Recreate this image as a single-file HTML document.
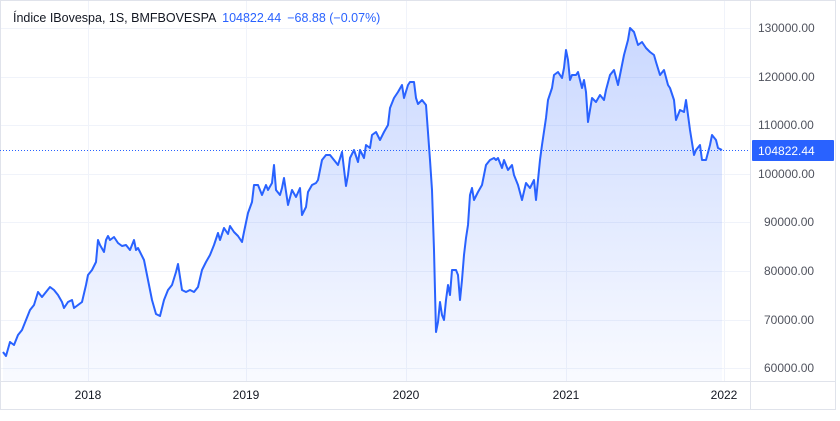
<!DOCTYPE html>
<html><head><meta charset="utf-8"><style>
body{margin:0;background:#fff;}
svg text{font-family:"Liberation Sans",sans-serif;}
</style></head><body>
<svg width="840" height="416" viewBox="0 0 840 416" xmlns="http://www.w3.org/2000/svg">
<defs><linearGradient id="g" x1="0" y1="0" x2="0" y2="1">
<stop offset="0" stop-color="#2962ff" stop-opacity="0.25"/>
<stop offset="1" stop-color="#2962ff" stop-opacity="0.03"/></linearGradient></defs>
<rect width="840" height="416" fill="#fff"/>
<g stroke="#f0f3fa" stroke-width="1">
<line x1="0" y1="28.5" x2="750" y2="28.5"/><line x1="0" y1="77.5" x2="750" y2="77.5"/>
<line x1="0" y1="125.5" x2="750" y2="125.5"/><line x1="0" y1="174.5" x2="750" y2="174.5"/>
<line x1="0" y1="222.5" x2="750" y2="222.5"/><line x1="0" y1="271.5" x2="750" y2="271.5"/>
<line x1="0" y1="320.5" x2="750" y2="320.5"/><line x1="0" y1="368.5" x2="750" y2="368.5"/>
<line x1="88.5" y1="0" x2="88.5" y2="381"/><line x1="246.5" y1="0" x2="246.5" y2="381"/>
<line x1="406.5" y1="0" x2="406.5" y2="381"/><line x1="566.5" y1="0" x2="566.5" y2="381"/>
<line x1="724.5" y1="0" x2="724.5" y2="381"/>
</g>
<line x1="750.5" y1="0" x2="750.5" y2="410" stroke="#e0e3eb"/>
<line x1="0" y1="381.5" x2="836" y2="381.5" stroke="#e0e3eb"/>
<rect x="0.5" y="0.5" width="835" height="409" fill="none" stroke="#e0e3eb"/>
<polygon fill="url(#g)" points="3,381 3,352 6,356 10,342 14,345 18,335 22,330 26,320 30,310 34,305 38,292 42,297 46,292 50,287 54,290 58,295 62,302 64,308 68,302 72,300 74,308 78,305 82,302 86,285 88,275 92,270 96,262 98,240 100,245 104,252 106,240 108,236 110,240 114,237 118,243 122,246 126,245 130,250 134,240 136,250 138,248 140,252 144,260 148,280 152,300 156,314 160,316 164,300 168,290 172,285 176,272 178,264 182,290 186,292 190,290 194,292 198,287 202,270 206,262 210,255 214,245 218,233 220,240 224,228 228,234 230,226 234,232 238,236 242,242 244,232 248,213 252,202 254,185 258,185 262,195 266,185 268,190 272,183 274,165 276,190 280,195 282,188 284,178 288,205 292,190 296,197 300,188 302,215 306,207 308,192 312,185 316,183 318,180 322,160 326,155 330,155 334,160 338,165 342,152 346,186 348,175 350,158 354,150 358,162 360,150 364,158 366,145 370,148 372,135 376,132 380,140 384,132 388,125 390,108 394,98 398,92 402,85 404,98 408,85 410,82 414,82 416,98 418,104 422,100 426,105 430,160 432,190 434,250 436,332 438,322 440,302 442,315 444,320 446,300 448,285 450,295 452,270 456,270 458,275 460,300 462,280 464,255 466,238 468,225 470,195 472,188 474,200 478,192 482,185 486,165 490,160 494,158 496,160 498,158 502,168 504,160 508,170 512,165 514,175 518,185 522,200 526,183 530,188 534,180 536,200 540,160 542,145 546,118 548,100 552,88 554,75 558,72 562,78 564,68 566,50 568,60 570,80 572,75 576,75 578,72 582,88 584,80 586,92 588,122 592,98 596,102 600,95 604,100 606,90 610,75 614,70 618,85 620,75 624,55 628,40 630,28 634,32 638,45 642,42 646,48 650,52 654,55 656,62 660,75 664,70 668,85 670,88 674,100 676,120 680,110 684,112 686,100 690,130 694,155 696,150 700,145 702,160 706,160 710,145 712,135 716,140 718,148 722,150 722,381"/>
<polyline fill="none" stroke="#2962ff" stroke-width="2" stroke-linejoin="round" points="3,352 6,356 10,342 14,345 18,335 22,330 26,320 30,310 34,305 38,292 42,297 46,292 50,287 54,290 58,295 62,302 64,308 68,302 72,300 74,308 78,305 82,302 86,285 88,275 92,270 96,262 98,240 100,245 104,252 106,240 108,236 110,240 114,237 118,243 122,246 126,245 130,250 134,240 136,250 138,248 140,252 144,260 148,280 152,300 156,314 160,316 164,300 168,290 172,285 176,272 178,264 182,290 186,292 190,290 194,292 198,287 202,270 206,262 210,255 214,245 218,233 220,240 224,228 228,234 230,226 234,232 238,236 242,242 244,232 248,213 252,202 254,185 258,185 262,195 266,185 268,190 272,183 274,165 276,190 280,195 282,188 284,178 288,205 292,190 296,197 300,188 302,215 306,207 308,192 312,185 316,183 318,180 322,160 326,155 330,155 334,160 338,165 342,152 346,186 348,175 350,158 354,150 358,162 360,150 364,158 366,145 370,148 372,135 376,132 380,140 384,132 388,125 390,108 394,98 398,92 402,85 404,98 408,85 410,82 414,82 416,98 418,104 422,100 426,105 430,160 432,190 434,250 436,332 438,322 440,302 442,315 444,320 446,300 448,285 450,295 452,270 456,270 458,275 460,300 462,280 464,255 466,238 468,225 470,195 472,188 474,200 478,192 482,185 486,165 490,160 494,158 496,160 498,158 502,168 504,160 508,170 512,165 514,175 518,185 522,200 526,183 530,188 534,180 536,200 540,160 542,145 546,118 548,100 552,88 554,75 558,72 562,78 564,68 566,50 568,60 570,80 572,75 576,75 578,72 582,88 584,80 586,92 588,122 592,98 596,102 600,95 604,100 606,90 610,75 614,70 618,85 620,75 624,55 628,40 630,28 634,32 638,45 642,42 646,48 650,52 654,55 656,62 660,75 664,70 668,85 670,88 674,100 676,120 680,110 684,112 686,100 690,130 694,155 696,150 700,145 702,160 706,160 710,145 712,135 716,140 718,148 722,150"/>
<line x1="0" y1="150.5" x2="750" y2="150.5" stroke="#2962ff" stroke-width="1" stroke-dasharray="1,2"/>
<g font-size="12" fill="#50535e">
<text x="758" y="32">130000.00</text><text x="758" y="81">120000.00</text>
<text x="758" y="129">110000.00</text><text x="758" y="178">100000.00</text>
<text x="764" y="226">90000.00</text><text x="764" y="275">80000.00</text>
<text x="764" y="324">70000.00</text><text x="764" y="372">60000.00</text>
</g>
<g font-size="12" fill="#131722">
<text x="88" y="399" text-anchor="middle">2018</text><text x="246" y="399" text-anchor="middle">2019</text>
<text x="406" y="399" text-anchor="middle">2020</text><text x="566" y="399" text-anchor="middle">2021</text>
<text x="724" y="399" text-anchor="middle">2022</text>
</g>
<rect x="752" y="140" width="82" height="21" fill="#2962ff" rx="1"/>
<text x="758" y="155" font-size="12" fill="#fff">104822.44</text>
<text x="13" y="22" font-size="12.5" fill="#131722">Índice IBovespa, 1S, BMFBOVESPA <tspan fill="#2962ff" dx="3">104822.44</tspan><tspan fill="#2962ff" dx="6">−68.88 (−0.07%)</tspan></text>
</svg>
</body></html>
